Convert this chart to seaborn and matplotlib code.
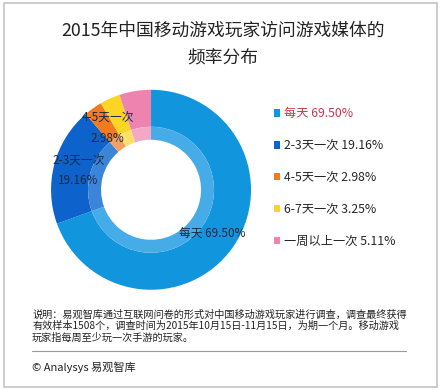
import matplotlib
matplotlib.use("Agg")
import matplotlib.pyplot as plt
import seaborn as sns
from matplotlib.patches import Rectangle
from matplotlib.lines import Line2D

# data
categories = ['每天', '2-3天一次', '4-5天一次', '6-7天一次', '一周以上一次']
shares = [69.50, 19.16, 2.98, 3.25, 5.11]
shown_on_ring = [True, True, True, False, False]
two_line = [False, True, True, False, False]

outer_colors = ['#1196dd', '#0e62cc', '#f17b1e', '#fbd524', '#ef83b0']
inner_colors = ['#45ace8', '#3a84da', '#f4a064', '#fce067', '#f3a8c8']

title = '2015年中国移动游戏玩家访问游戏媒体的\n频率分布'
note = ('说明：易观智库通过互联网问卷的形式对中国移动游戏玩家进行调查，调查最终获得\n'
        '有效样本1508个，调查时间为2015年10月15日-11月15日，为期一个月。移动游戏\n'
        '玩家指每周至少玩一次手游的玩家。')
source = '© Analysys 易观智库'

sns.set_theme(style='white')
plt.rcParams['font.family'] = ['Noto Sans CJK SC', 'DejaVu Sans']

fig = plt.figure(figsize=(4.4, 3.9), dpi=100)
fig.patch.set_facecolor('white')

# donut
ax = fig.add_axes([0.116, 0.257, 0.4545, 0.5128])
ring_labels = []
for cat, val, show, split in zip(categories, shares, shown_on_ring, two_line):
    if not show:
        ring_labels.append('')
    elif split:
        ring_labels.append(f'{cat}\n{val:.2f}%')
    else:
        ring_labels.append(f'{cat} {val:.2f}%')

wedges, texts = ax.pie(shares, labels=ring_labels, colors=outer_colors,
                       startangle=90, counterclock=False, radius=1.0,
                       labeldistance=0.75,
                       wedgeprops=dict(width=0.37, linewidth=0),
                       textprops=dict(fontsize=8.5, color='#1c2a44'))
for t in texts:
    t.set_ha('center')
    t.set_linespacing(1.7)

ax.pie(shares, colors=inner_colors, startangle=90, counterclock=False,
       radius=0.63, wedgeprops=dict(width=0.13, linewidth=0))
ax.set_xlim(-1, 1)
ax.set_ylim(-1, 1)
ax.set_aspect('equal')
ax.axis('off')

# legend
legend_labels = [f'{c} {v:.2f}%' for c, v in zip(categories, shares)]
leg = fig.legend(wedges, legend_labels, loc='upper left',
                 bbox_to_anchor=(0.622, 0.725), frameon=False, fontsize=8.8,
                 handlelength=0.55, handleheight=0.55, handletextpad=0.3,
                 labelspacing=1.55, borderpad=0, borderaxespad=0)
leg.get_texts()[0].set_color('#c8384a')

# title
fig.text(0.507, 0.945, title, ha='center', va='top', fontsize=12.8,
         color='#222222', linespacing=1.7)

# footer
fig.text(0.073, 0.207, note, ha='left', va='top', fontsize=7.3,
         color='#222222', linespacing=1.2)
fig.add_artist(Line2D([0.073, 0.922], [0.1, 0.1], transform=fig.transFigure,
                      color='#9a9a9a', linewidth=0.8))
fig.text(0.073, 0.058, source, ha='left', va='center', fontsize=8,
         color='#222222')

# outer frame
fig.add_artist(Rectangle((0.009, 0.008), 0.984, 0.984, transform=fig.transFigure,
                         fill=False, edgecolor='#c4c4c4', linewidth=1.2))

plt.savefig('out.png', dpi=100)
